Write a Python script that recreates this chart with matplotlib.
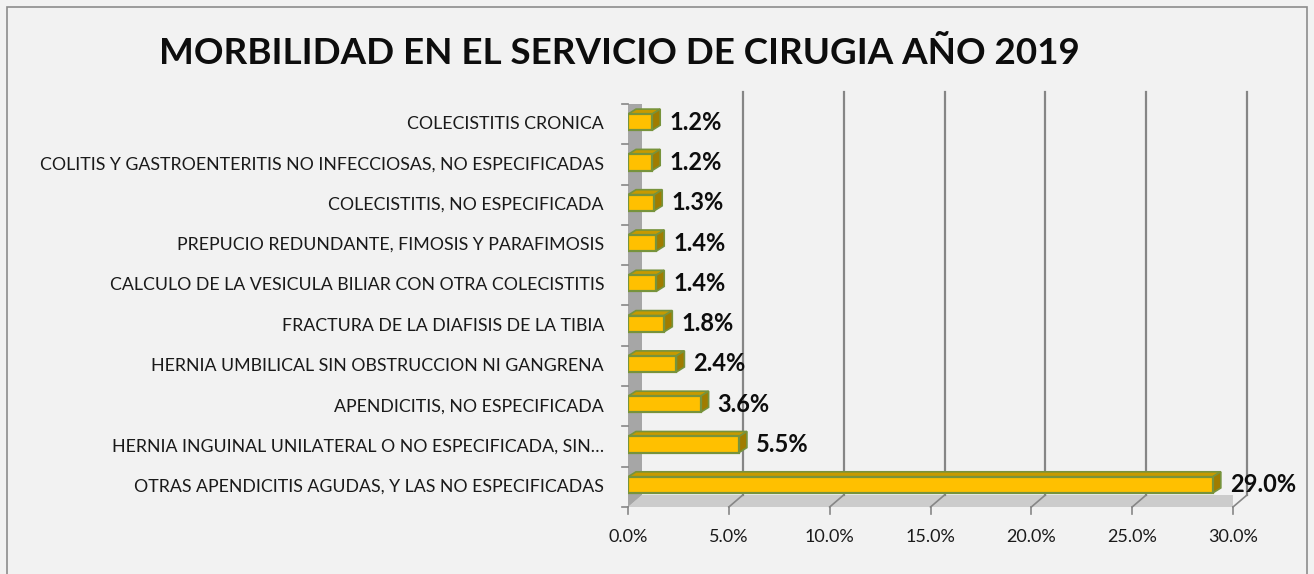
import matplotlib.pyplot as plt
from matplotlib.patches import Polygon, Rectangle

# data (bottom to top)
categories = [
    "OTRAS APENDICITIS AGUDAS, Y LAS NO ESPECIFICADAS",
    "HERNIA INGUINAL UNILATERAL O NO ESPECIFICADA, SIN…",
    "APENDICITIS, NO ESPECIFICADA",
    "HERNIA UMBILICAL SIN OBSTRUCCION NI GANGRENA",
    "FRACTURA DE LA DIAFISIS DE LA TIBIA",
    "CALCULO DE LA VESICULA BILIAR CON OTRA COLECISTITIS",
    "PREPUCIO REDUNDANTE, FIMOSIS Y PARAFIMOSIS",
    "COLECISTITIS, NO ESPECIFICADA",
    "COLITIS Y GASTROENTERITIS NO INFECCIOSAS, NO ESPECIFICADAS",
    "COLECISTITIS CRONICA",
]
values = [29.0, 5.5, 3.6, 2.4, 1.8, 1.4, 1.4, 1.3, 1.2, 1.2]
x_ticks = [0, 5, 10, 15, 20, 25, 30]
title = "MORBILIDAD EN EL SERVICIO DE CIRUGIA AÑO 2019"

plt.rcParams['font.family'] = ['Lato', 'DejaVu Sans']

W, H = 1314, 574
fig = plt.figure(figsize=(W / 100, H / 100), dpi=100)
fig.patch.set_facecolor('#f2f2f2')

# front plane of the pseudo 3d plot area, in pixels
left_px, right_px, top_px, bot_px = 628, 1233, 104, 507
ax = fig.add_axes([left_px / W, 1 - bot_px / H, (right_px - left_px) / W, (bot_px - top_px) / H])
ax.set_xlim(0, 30)
ax.set_ylim(-0.5, len(values) - 0.5)
ax.axis('off')

# pixel -> data conversion
ux = 30 / (right_px - left_px)
uy = len(values) / (bot_px - top_px)

# wall depth
wdx, wdy = 14 * ux, 12 * uy
ylo, yhi = -0.5, len(values) - 0.5

# floor
ax.add_patch(Polygon([(0, ylo), (30, ylo), (30 + wdx, ylo + wdy), (wdx, ylo + wdy)],
                     closed=True, fc='#cccccc', ec='none', zorder=1))
# left wall
ax.add_patch(Polygon([(0, ylo), (0, yhi), (wdx, yhi + wdy), (wdx, ylo + wdy)],
                     closed=True, fc='#a6a6a6', ec='none', zorder=1))

# gridlines on back wall + floor diagonals + ticks
for t in x_ticks:
    if t > 0:
        ax.plot([t + wdx, t + wdx], [ylo + wdy, yhi + wdy], color='#868686', lw=1.6, zorder=2,
                clip_on=False)
        ax.plot([t, t + wdx], [ylo, ylo + wdy], color='#868686', lw=1.2, zorder=2, clip_on=False)
    ax.plot([t, t], [ylo, ylo - 7 * uy], color='#868686', lw=1.2, clip_on=False)
    ax.text(t, ylo - 30 * uy, f"{t:.1f}%", ha='center', va='center', fontsize=13,
            color='#1a1a1a')

for i in range(len(values) + 1):
    y = ylo + i
    ax.plot([0, -6 * ux], [y, y], color='#868686', lw=1.2, clip_on=False)

# bars with a small 3d look
bh = 0.4
bdx, bdy = 8 * ux, 5 * uy
shift = 2 * uy
for i, v in enumerate(values):
    yc = i + shift
    y0, y1 = yc - bh / 2, yc + bh / 2
    ax.add_patch(Polygon([(0, y1), (v, y1), (v + bdx, y1 + bdy), (bdx, y1 + bdy)],
                         closed=True, fc='#c79a00', ec='#77933c', lw=1.2, zorder=3))
    ax.add_patch(Polygon([(v, y0), (v, y1), (v + bdx, y1 + bdy), (v + bdx, y0 + bdy)],
                         closed=True, fc='#a07c00', ec='#77933c', lw=1.2, zorder=3))
    ax.add_patch(Rectangle((0, y0), v, bh, fc='#ffc000', ec='#77933c', lw=1.6, zorder=4))
    ax.text(v + bdx + 9 * ux, yc, f"{v:.1f}%", ha='left', va='center', fontsize=17,
            fontweight='bold', color='#0d0d0d', zorder=5, clip_on=False)

    ax.text(-24 * ux, i, categories[i], ha='right', va='center', fontsize=12.8,
            color='#1a1a1a')

fig.text(619 / W, 1 - 53 / H, title, ha='center', va='center', fontsize=26.5,
         fontweight='bold', color='#0d0d0d')

# chart border
fig.add_artist(Rectangle((7 / W, -0.01), (W - 14) / W, 1 - 7 / H + 0.01,
                         transform=fig.transFigure, fill=False, ec='#8c8c8c', lw=1.2))

fig.savefig('out.png', dpi=100, facecolor=fig.get_facecolor())
